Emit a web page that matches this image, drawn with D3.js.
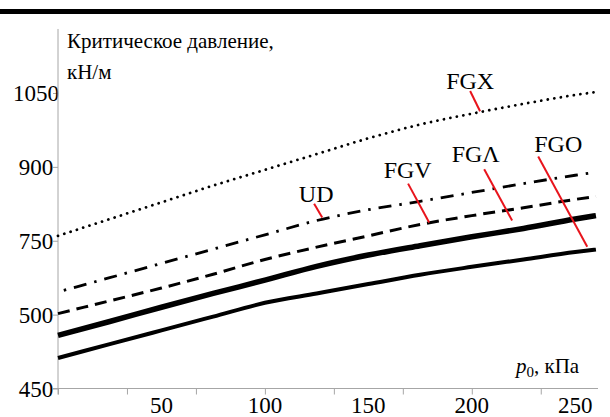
<!DOCTYPE html>
<html>
<head>
<meta charset="utf-8">
<script src="https://cdn.jsdelivr.net/npm/d3@7/dist/d3.min.js"></script>
<style>
  html, body { margin: 0; padding: 0; background: #fff; }
  svg { display: block; }
</style>
</head>
<body>
<svg id="chart" width="610" height="417" font-family="'Liberation Serif', 'Times New Roman', Tinos, 'DejaVu Serif', serif"></svg>
<script>
// ---- data ----
const pressure = [0, 25, 50, 75, 100, 125, 150, 175, 200, 225, 250, 260];
const FGX = [760, 794, 828, 862, 894, 926, 958, 986, 1008, 1028, 1046, 1052];
const UD  = [646, 675, 704, 733, 762, 791, 813, 830, 848, 866, 883, 889];
const FGV = [602, 628, 654, 682, 712, 737, 760, 783, 801, 817, 834, 840];
const FGL = [558, 586, 615, 643, 670, 698, 721, 740, 758, 775, 794, 801];
const FGO = [512, 540, 568, 596, 624, 643, 662, 681, 697, 712, 727, 732];

const yTickValues = [450, 600, 750, 900, 1050];
const yTickLabels = ["450", "500", "750", "900", "1050"];
const xLabelValues = [50, 100, 150, 200, 250];
const xMinorTicks = [0, 100/3, 200/3, 100, 400/3, 500/3, 200, 700/3];

// annotation: name, label position (x,y in data units), leader line from -> to
const annoNames = ["FGX", "UD", "FGV", "FG\u039B", "FGO"];
const annoLabel = [[199.2, 1058], [124.8, 828], [169, 877], [201.9, 909], [241.8, 930]];
const annoFrom  = [[199.2, 1054], [123.8, 825], [169.2, 866], [206, 895], [232.1, 921]];
const annoTo    = [[204, 1013], [127.7, 797], [179.4, 787], [219.5, 791], [255.8, 738]];

// ---- chart ----
const FONT = "'Liberation Serif', 'Times New Roman', Tinos, 'DejaVu Serif', serif";
const svg = d3.select("#chart");
const x = d3.scaleLinear().domain([0, 261]).range([58, 598]);
const y = d3.scaleLinear().domain([450, 1050]).range([388.5, 93]);
const yTop = 1180;

// top black rule
svg.append("rect").attr("x", 0).attr("y", 9).attr("width", 610).attr("height", 5).attr("fill", "#000");

const axisColor = "#a6a6a6";

// y axis
const yAxis = svg.append("g").attr("transform", `translate(${x(0)},0)`)
  .call(d3.axisLeft(y).tickValues(yTickValues).tickSize(5)
        .tickFormat((d, i) => yTickLabels[i]));
yAxis.attr("font-family", FONT).attr("font-size", 23);
yAxis.select(".domain").remove();
yAxis.selectAll(".tick line").attr("stroke", axisColor);
yAxis.selectAll(".tick text")
  .attr("x", -22).attr("dy", "0.33em")
  .attr("text-anchor", "middle")
  .attr("fill", "#000");
svg.append("line").attr("x1", x(0)).attr("x2", x(0))
  .attr("y1", y(yTop)).attr("y2", y(450) + 6)
  .attr("stroke", axisColor).attr("stroke-width", 1);

// x axis
const xAxis = svg.append("g").attr("transform", `translate(0,${y(450)})`)
  .call(d3.axisBottom(x).tickValues(xMinorTicks).tickSize(6).tickFormat(""));
xAxis.select(".domain").remove();
xAxis.selectAll(".tick line").attr("stroke", axisColor);
svg.append("line").attr("x1", x(0) - 5).attr("x2", x(261))
  .attr("y1", y(450)).attr("y2", y(450))
  .attr("stroke", axisColor).attr("stroke-width", 1);

svg.append("g").selectAll("text").data(xLabelValues).join("text")
  .attr("x", d => x(d)).attr("y", 413)
  .attr("text-anchor", "middle")
  .attr("font-family", FONT).attr("font-size", 23)
  .text(d => d);

// axis titles
svg.append("text").attr("x", 67).attr("y", 48)
  .attr("font-family", FONT).attr("font-size", 21).text("Критическое давление,");
svg.append("text").attr("x", 67).attr("y", 79)
  .attr("font-family", FONT).attr("font-size", 21).text("кН/м");

const xt = svg.append("text").attr("x", 516).attr("y", 373)
  .attr("font-family", FONT).attr("font-size", 21);
xt.append("tspan").attr("font-style", "italic").text("p");
xt.append("tspan").attr("dy", 4).attr("font-size", 15).text("0");
xt.append("tspan").attr("dy", -4).text(", кПа");

// series
const line = d3.line().x((d, i) => x(pressure[i])).y(d => y(d)).curve(d3.curveMonotoneX);
const series = [
  { v: FGX, w: 2.8, dash: "0.01 6.6", off: 0, cap: "round" },
  { v: UD,  w: 2.8, dash: "13 8 2.5 8", off: 15, cap: "butt" },
  { v: FGV, w: 3,   dash: "12 7", off: 0, cap: "butt" },
  { v: FGL, w: 5.5, dash: null, off: 0, cap: "butt" },
  { v: FGO, w: 4,   dash: null, off: 0, cap: "butt" }
];
svg.append("g").selectAll("path").data(series).join("path")
  .attr("d", d => line(d.v))
  .attr("fill", "none")
  .attr("stroke", "#000")
  .attr("stroke-width", d => d.w)
  .attr("stroke-dasharray", d => d.dash)
  .attr("stroke-dashoffset", d => d.off)
  .attr("stroke-linecap", d => d.cap);

// annotations
const ag = svg.append("g");
annoNames.forEach((n, i) => {
  ag.append("line")
    .attr("x1", x(annoFrom[i][0])).attr("y1", y(annoFrom[i][1]))
    .attr("x2", x(annoTo[i][0])).attr("y2", y(annoTo[i][1]))
    .attr("stroke", "#e8141c").attr("stroke-width", 2);
  ag.append("text")
    .attr("x", x(annoLabel[i][0])).attr("y", y(annoLabel[i][1]))
    .attr("text-anchor", "middle")
    .attr("font-family", FONT).attr("font-size", 24)
    .text(n);
});
</script>
</body>
</html>
